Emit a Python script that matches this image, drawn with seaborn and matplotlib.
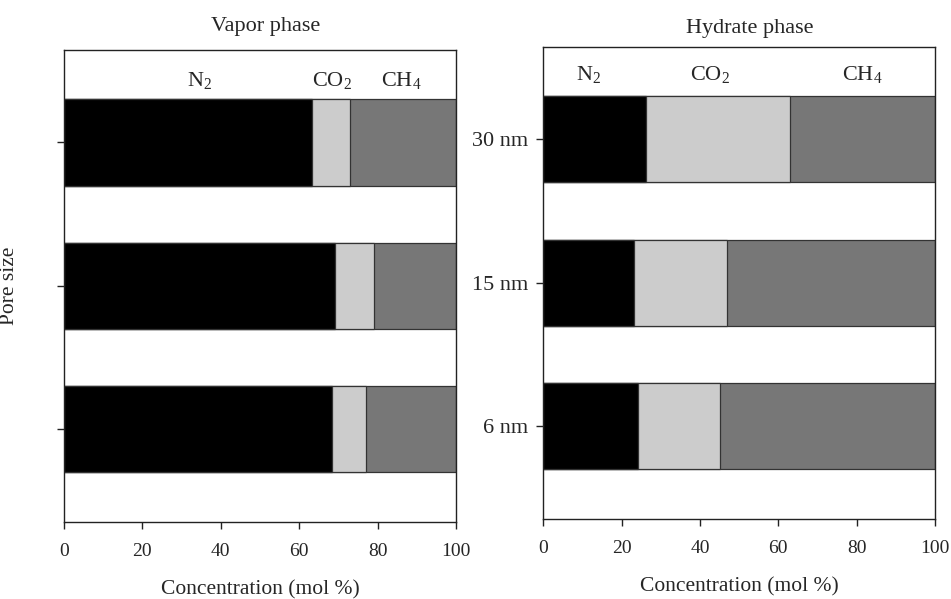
import matplotlib
matplotlib.use("Agg")
import matplotlib.pyplot as plt
import seaborn as sns
import pandas as pd
import numpy as np

# ---- data ----
pore_sizes = ["30 nm", "15 nm", "6 nm"]
gases = ["N$_\\mathrm{2}$", "CO$_\\mathrm{2}$", "CH$_\\mathrm{4}$"]

vapor_n2 = [63.3, 69.1, 68.3]
vapor_co2 = [9.7, 10.0, 8.7]
vapor_ch4 = [27.0, 20.9, 23.0]

hydrate_n2 = [26.1, 23.2, 24.1]
hydrate_co2 = [36.9, 23.8, 21.0]
hydrate_ch4 = [37.0, 53.0, 54.9]

panel_titles = ["Vapor phase", "Hydrate phase"]
xlabel = "Concentration (mol %)"
ylabel = "Pore size"
xticks = [0, 20, 40, 60, 80, 100]

colors = {"N2": "#000000", "CO2": "#cccccc", "CH4": "#777777"}

sns.set_theme(style="white")
plt.rcParams["font.family"] = ["Liberation Serif", "DejaVu Serif"]
plt.rcParams["mathtext.fontset"] = "custom"
plt.rcParams["mathtext.rm"] = "Liberation Serif"
plt.rcParams["mathtext.it"] = "Liberation Serif:italic"

fig = plt.figure(figsize=(9.51, 5.99), dpi=100)
ax1 = fig.add_axes([0.0673, 0.1290, 0.4122, 0.7875])
ax2 = fig.add_axes([0.5713, 0.1340, 0.4119, 0.7880])


def draw(ax, n2, co2, ch4, label_x, label_y):
    df = pd.DataFrame({
        "pore": pore_sizes,
        "n2": n2,
        "n2co2": np.array(n2) + np.array(co2),
        "total": np.array(n2) + np.array(co2) + np.array(ch4),
    })
    for col, c in [("total", colors["CH4"]), ("n2co2", colors["CO2"]), ("n2", colors["N2"])]:
        sns.barplot(data=df, x=col, y="pore", order=pore_sizes, orient="h",
                    color=c, saturation=1, width=0.6, edgecolor="#333333",
                    linewidth=0.9, ax=ax)
    ax.set_xlim(0, 100)
    ax.set_ylim(2.645, -0.645)
    ax.set_xticks(xticks)
    ax.set_xticklabels([str(t) for t in xticks], fontsize=14)
    for s in ax.spines.values():
        s.set_visible(True)
        s.set_color("#222222")
        s.set_linewidth(1.0)
    ax.tick_params(axis="both", which="major", direction="out", length=5,
                   width=1, color="#222222", bottom=True, left=True)
    ax.tick_params(axis="x", pad=10)
    ax.tick_params(axis="y", pad=6)
    ax.set_xlabel(xlabel, fontsize=15.5, labelpad=15)
    for g, x in zip(gases, label_x):
        ax.text(x, label_y, g, ha="center", va="center", fontsize=16)


draw(ax1, vapor_n2, vapor_co2, vapor_ch4, [34.7, 68.3, 86.0], -0.43)
draw(ax2, hydrate_n2, hydrate_co2, hydrate_ch4, [11.5, 42.6, 81.4], -0.45)

ax1.set_yticklabels([])
ax1.set_ylabel(ylabel, fontsize=15.5)
ax1.yaxis.set_label_coords(-0.115, 0.5)
ax2.set_ylabel("")
ax2.set_yticklabels(pore_sizes, fontsize=16)

fig.text(266 / 951, 1 - 26 / 599, panel_titles[0], ha="center", va="center", fontsize=16)
fig.text(750 / 951, 1 - 28 / 599, panel_titles[1], ha="center", va="center", fontsize=16)

fig.savefig("out.png", dpi=100)
